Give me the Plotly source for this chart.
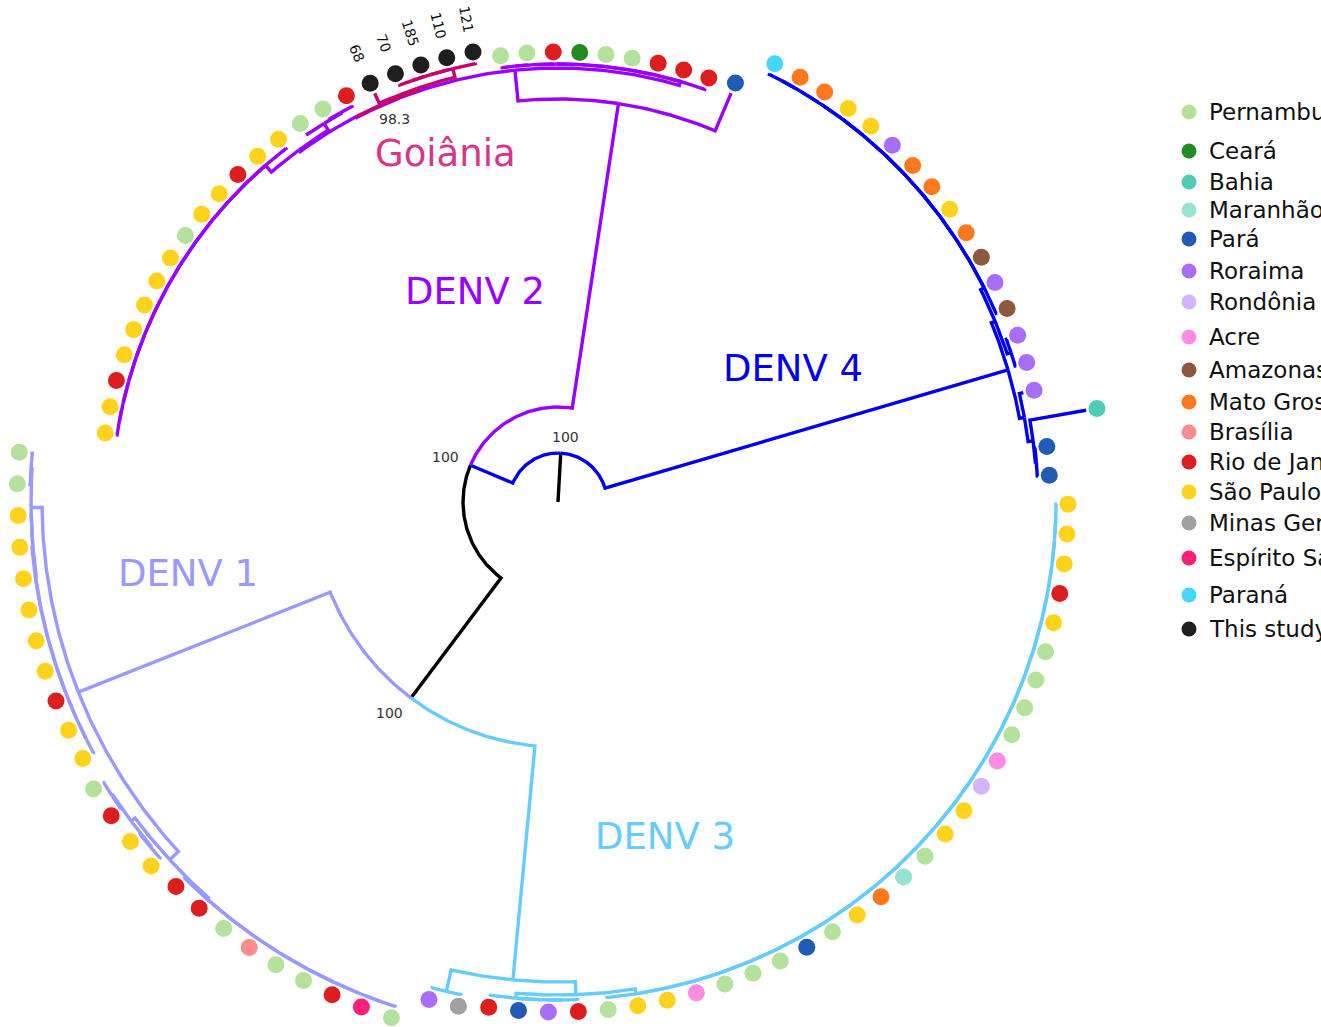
import math
import plotly.graph_objects as go

# ---------------------------------------------------------------------------
# Phylogeny (branch lengths in substitutions/site), one Newick per serotype
# ---------------------------------------------------------------------------
DENV3_NEWICK = (
    "(("
    "((((((((((((((((((((((((("
    "D3.00:0.001,D3.01:0.001):0,D3.02:0.001):0,D3.03:0.001):0,D3.04:0.001):0,"
    "D3.05:0.001):0,D3.06:0.001):0,D3.07:0.001):0,D3.08:0.001):0,D3.09:0.001):0,"
    "D3.10:0.001):0,D3.11:0.001):0,D3.12:0.001):0,D3.13:0.001):0,D3.14:0.001):0,"
    "D3.15:0.001):0,D3.16:0.001):0,D3.17:0.001):0,D3.18:0.001):0,D3.19:0.001):0,"
    "D3.20:0.001):0,D3.21:0.001):0,D3.22:0.001):0,D3.23:0.001):0,D3.24:0.001):0,"
    "D3.25:0.001):0.005,"
    "(((D3.26:0.001,D3.27:0.001):0,D3.28:0.001):0,D3.29:0.001):0.005"
    "):0.013,(D3.30:0.001,D3.31:0.001):0.022)DENV3"
)

DENV1_NEWICK = (
    "(("
    "((((((((D1.00:0.001,D1.01:0.001):0,D1.02:0.001):0,D1.03:0.001):0,D1.04:0.001):0,"
    "D1.05:0.001):0,D1.06:0.001):0,D1.07:0.001):0,D1.08:0.001):0.002,"
    "((D1.09:0.001,D1.10:0.001):0.001,(D1.11:0.001,D1.12:0.001):0.001):0.005"
    "):0.012,(("
    "(((((((D1.13:0.001,D1.14:0.001):0,D1.15:0.001):0,D1.16:0.001):0,D1.17:0.001):0,"
    "D1.18:0.001):0,D1.19:0.001):0,D1.20:0.001):0.001,D1.21:0.002):0,"
    "(D1.22:0.002,D1.23:0.002):0.001):0.011)DENV1"
)

DENV2_NEWICK = (
    "(((("
    "((((((((((((("
    "D2.00:0.001,D2.01:0.001):0,D2.02:0.001):0,D2.03:0.001):0,D2.04:0.001):0,"
    "D2.05:0.001):0,D2.06:0.001):0,D2.07:0.001):0,D2.08:0.001):0,D2.09:0.001):0,"
    "D2.10:0.001):0,D2.11:0.001):0,D2.12:0.001):0,D2.13:0.001):0.009,"
    "(D2.14:0.002,(D2.15:0.001,D2.16:0.001):0.001):0.008):0.002,"
    "(68:0.011,(((70:0.001,185:0.001):0,110:0.001):0,121:0.001):0.009)Goiania:0.002"
    "):0.001,"
    "((((((((D2.22:0.001,D2.23:0.001):0,D2.24:0.001):0,D2.25:0.001):0,D2.26:0.001):0,"
    "D2.27:0.001):0,D2.28:0.001):0,D2.29:0.001):0,D2.30:0.001):0.004"
    "):0.031,D2.31:0.041)DENV2"
)

DENV4_NEWICK = (
    "(("
    "((((((((((((D4.00:0.001,D4.01:0.001):0,D4.02:0.001):0,D4.03:0.001):0,"
    "D4.04:0.001):0,D4.05:0.001):0,D4.06:0.001):0,D4.07:0.001):0,D4.08:0.001):0,"
    "D4.09:0.001):0,D4.10:0.001):0,D4.11:0.001):0,D4.12:0.001):0.004,"
    "(D4.13:0.001,D4.14:0.001):0.004):0.004,"
    "(D4.15:0.004,(D4.16:0.057,(D4.17:0.001,D4.18:0.001):0.001):0.005):0.005)DENV4"
)

TREE_NEWICK = (
    "(((" + DENV3_NEWICK + ":0.235," + DENV1_NEWICK + ":0.271)B:0.150,"
    + DENV2_NEWICK + ":0.308)A:0.046," + DENV4_NEWICK + ":0.420)root:0.049;"
)

# Sampling state of each tip, in tree order
DENV3_STATES = ["SP", "SP", "SP", "RJ", "SP", "PE", "PE", "PE", "PE", "AC", "RO",
                "SP", "SP", "PE", "MA", "MT", "SP", "PE", "PA", "PE", "PE", "PE",
                "AC", "SP", "SP", "PE", "RJ", "RR", "PA", "RJ", "MG", "RR"]
DENV1_STATES = ["PE", "ES", "RJ", "PE", "PE", "DF", "PE", "RJ", "RJ", "SP", "SP",
                "RJ", "PE", "SP", "SP", "RJ", "SP", "SP", "SP", "SP", "SP", "SP",
                "PE", "PE"]
DENV2_STATES = ["SP", "SP", "RJ", "SP", "SP", "SP", "SP", "SP", "PE", "SP", "SP",
                "RJ", "SP", "SP", "PE", "PE", "RJ", "NEW", "NEW", "NEW", "NEW",
                "NEW", "PE", "PE", "RJ", "CE", "PE", "PE", "RJ", "RJ", "RJ", "PA"]
DENV4_STATES = ["PR", "MT", "MT", "SP", "SP", "RR", "MT", "MT", "SP", "MT", "AM",
                "RR", "AM", "RR", "RR", "RR", "BA", "PA", "PA"]

# Bootstrap support shown on the backbone
SUPPORT = {"root": "100", "A": "100", "B": "100", "Goiania": "98.3"}

# Legend
LEGEND_CODES = ["PE", "CE", "BA", "MA", "PA", "RR", "RO", "AC", "AM", "MT", "DF",
                "RJ", "SP", "MG", "ES", "PR", "NEW"]
LEGEND_NAMES = ["Pernambuco", "Ceará", "Bahia", "Maranhão", "Pará", "Roraima",
                "Rondônia", "Acre", "Amazonas", "Mato Grosso", "Brasília",
                "Rio de Janeiro", "São Paulo", "Minas Gerais", "Espírito Santo",
                "Paraná", "This study"]

# ---------------------------------------------------------------------------
# Styling / layout
# ---------------------------------------------------------------------------
STATE_COLOURS = {
    "PE": "#B4E19C", "CE": "#228B22", "BA": "#4ECDB4", "MA": "#96E3D4",
    "PA": "#215BB5", "RR": "#A86EFA", "RO": "#D4B4FA", "AC": "#FF8CE1",
    "AM": "#8B5A3C", "MT": "#FF781E", "DF": "#FF8C8C", "RJ": "#DC1E1E",
    "SP": "#FFD21E", "MG": "#A0A0A0", "ES": "#FF1E78", "PR": "#46D7FF",
    "NEW": "#1E1E1E",
}
C_D1, C_D2, C_D3, C_D4 = "#9999FF", "#9900FF", "#66CCFF", "#0000EE"
C_GOI_LINE, C_GOI_TEXT = "#C8006E", "#D6358A"
BRANCH_COLOURS = {"root": "#000000", "A": C_D4, "B": "#000000",
                  "DENV1": C_D1, "DENV2": C_D2, "DENV3": C_D3, "DENV4": C_D4,
                  "Goiania": C_GOI_LINE}
DRAW_ORDER = ["#000000", C_D4, C_D1, C_D3, C_D2, C_GOI_LINE]

W, H = 1321, 1027
CX, CY = 558, 502          # centre of the circular layout (px)
SCALE = 1000.0             # px per substitution/site
START_ANGLE = 359.76       # angle of the first tip (deg, counter-clockwise)
DOT_GAP = 11               # tip dot offset beyond the tip (px)
LINE_W = 3.4
FONT = "DejaVu Sans"

SUPPORT_OFFSET = {"root": (5, -16), "A": (-25, -8), "B": (-21, 15), "Goiania": (-22, 30)}
CLADE_LABELS = [("DENV 1", 188, 573, C_D1), ("DENV 2", 475, 291, C_D2),
                ("DENV 3", 665, 836, C_D3), ("DENV 4", 793, 368, C_D4),
                ("Goiânia", 445, 153, C_GOI_TEXT)]
LEGEND_X, LEGEND_TEXT_X = 1189, 1207
LEGEND_ROWS = [112, 151, 182, 210, 239, 271, 302, 337, 370, 402, 432, 462,
               492, 523, 558, 595, 629]


# ---------------------------------------------------------------------------
def parse_newick(text):
    pos = 0

    def read_node():
        nonlocal pos
        node = {"name": "", "length": 0.0, "children": []}
        if text[pos] == "(":
            pos += 1
            while True:
                node["children"].append(read_node())
                ch = text[pos]
                pos += 1
                if ch == ")":
                    break
        start = pos
        while text[pos] not in ",():;":
            pos += 1
        node["name"] = text[start:pos]
        if text[pos] == ":":
            pos += 1
            start = pos
            while text[pos] not in ",();":
                pos += 1
            node["length"] = float(text[start:pos])
        return node

    return read_node()


tree = parse_newick(TREE_NEWICK)

tips = []


def collect(node):
    if not node["children"]:
        tips.append(node)
    for c in node["children"]:
        collect(c)


collect(tree)
states = DENV3_STATES + DENV1_STATES + DENV2_STATES + DENV4_STATES
assert len(tips) == len(states)
step = 360.0 / len(tips)
for k, t in enumerate(tips):
    t["angle"] = START_ANGLE - k * step
    t["state"] = states[k]


def layout(node, parent_r, colour):
    node["r"] = parent_r + node["length"] * SCALE
    node["colour"] = BRANCH_COLOURS.get(node["name"], colour)
    for c in node["children"]:
        layout(c, node["r"], node["colour"])
    if node["children"]:
        node["angle"] = (node["children"][0]["angle"] + node["children"][-1]["angle"]) / 2


layout(tree, 0.0, "#000000")


def xy(r, a):
    t = math.radians(a)
    return CX + r * math.cos(t), CY - r * math.sin(t)


segments = {c: ([], []) for c in DRAW_ORDER}


def add_path(colour, pts):
    xs, ys = segments[colour]
    for p in pts:
        xs.append(p[0])
        ys.append(p[1])
    xs.append(None)
    ys.append(None)


# root stem
add_path(tree["colour"], [xy(0, tree["angle"]), xy(tree["r"], tree["angle"])])


def branches(node):
    for c in node["children"]:
        a0, a1 = node["angle"], c["angle"]
        n = max(2, int(abs(a1 - a0) / 0.4) + 2)
        pts = [xy(node["r"], a0 + (a1 - a0) * i / (n - 1)) for i in range(n)]
        pts.append(xy(c["r"], a1))
        add_path(c["colour"], pts)
        branches(c)


branches(tree)

fig = go.Figure()
for colour in DRAW_ORDER:
    xs, ys = segments[colour]
    fig.add_trace(go.Scatter(x=xs, y=ys, mode="lines", hoverinfo="skip",
                             line=dict(color=colour, width=LINE_W)))

# tip dots
dx, dy, dc = [], [], []
for t in tips:
    x, y = xy(t["r"] + DOT_GAP, t["angle"])
    dx.append(x)
    dy.append(y)
    dc.append(STATE_COLOURS[t["state"]])
fig.add_trace(go.Scatter(x=dx, y=dy, mode="markers", hoverinfo="skip",
                         marker=dict(size=17, color=dc, line=dict(width=0))))

annotations = []

# tip names for sequences of this study
for t in tips:
    if t["state"] == "NEW":
        x, y = xy(t["r"] + DOT_GAP + 33, t["angle"])
        annotations.append(dict(x=x, y=y, text=t["name"], showarrow=False,
                                textangle=180 - t["angle"],
                                xanchor="center", yanchor="middle",
                                font=dict(family=FONT, size=14, color="#111111")))


# bootstrap labels
def find(node, name):
    if node["name"] == name:
        return node
    for c in node["children"]:
        f = find(c, name)
        if f:
            return f
    return None


for name, label in SUPPORT.items():
    nd = find(tree, name)
    x, y = xy(nd["r"], nd["angle"])
    ox, oy = SUPPORT_OFFSET[name]
    annotations.append(dict(x=x + ox, y=y + oy, text=label, showarrow=False,
                            xanchor="center", yanchor="middle",
                            font=dict(family=FONT, size=14, color="#333333")))

# clade labels
for text, x, y, col in CLADE_LABELS:
    annotations.append(dict(x=x, y=y, text=text, showarrow=False,
                            xanchor="center", yanchor="middle",
                            font=dict(family=FONT, size=37, color=col)))

# legend (names run off the right-hand edge of the page)
fig.add_trace(go.Scatter(x=[LEGEND_X] * len(LEGEND_CODES), y=LEGEND_ROWS, mode="markers",
                         hoverinfo="skip",
                         marker=dict(size=15, color=[STATE_COLOURS[c] for c in LEGEND_CODES],
                                     line=dict(width=0))))
for name, y in zip(LEGEND_NAMES, LEGEND_ROWS):
    annotations.append(dict(x=LEGEND_TEXT_X, y=y, text=name, showarrow=False,
                            xanchor="left", yanchor="middle",
                            font=dict(family=FONT, size=23, color="#111111")))

fig.update_layout(
    width=W, height=H, margin=dict(l=0, r=0, t=0, b=0),
    paper_bgcolor="white", plot_bgcolor="white", showlegend=False,
    xaxis=dict(range=[0, W], visible=False, fixedrange=True),
    yaxis=dict(range=[H, 0], visible=False, fixedrange=True),
    annotations=annotations,
)

fig.write_html("out.html")
